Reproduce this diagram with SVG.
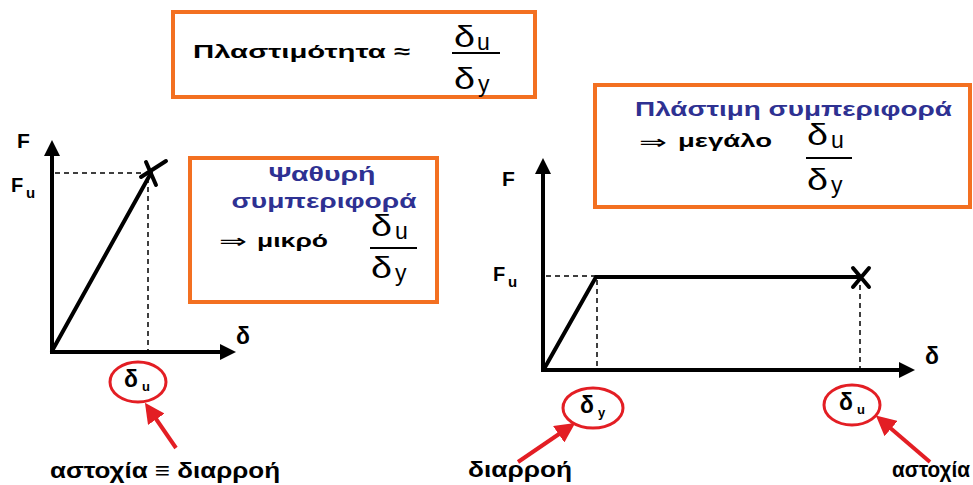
<svg xmlns="http://www.w3.org/2000/svg" width="973" height="485" viewBox="0 0 973 485">
<style>
.box{fill:#fff;stroke:#F37021;stroke-width:4}
.t{font-family:"Liberation Sans",Arial,sans-serif;font-weight:bold;fill:#000}
.b{fill:#2E3192}
.d{font-family:"Liberation Sans",Arial,sans-serif;font-weight:normal;fill:#000}
.ar{font-family:"DejaVu Sans",sans-serif;font-weight:normal;fill:#000}
.ax{stroke:#000;stroke-width:4;fill:none}
.pl{stroke:#000;stroke-width:4;fill:none;stroke-linecap:round}
.da{stroke:#000;stroke-width:1.5;stroke-dasharray:5 4;fill:none}
.fr{stroke:#000;stroke-width:2}
.rc{fill:none;stroke:#E31E24;stroke-width:3}
.ra{stroke:#E31E24;stroke-width:4;fill:none}
</style>
<defs>
<marker id="ah" markerWidth="4" markerHeight="4" refX="1" refY="2" orient="auto" markerUnits="strokeWidth"><path d="M0,0 L4,2 L0,4 z" fill="#000"/></marker>
<marker id="rh" markerWidth="5" markerHeight="5" refX="1" refY="2.5" orient="auto" markerUnits="strokeWidth"><path d="M0,0 L5,2.5 L0,5 z" fill="#E31E24"/></marker>
</defs>
<rect width="973" height="485" fill="#fff"/>

<g id="top-box">
<rect class="box" x="173" y="12" width="362" height="85"/>
<text class="t" x="193" y="58" font-size="19" textLength="217" lengthAdjust="spacingAndGlyphs">Πλαστιμότητα ≈</text>
<text class="d" x="454" y="47" font-size="29" textLength="21" lengthAdjust="spacingAndGlyphs">δ</text>
<text class="d" x="477" y="50" font-size="23">u</text>
<line class="fr" x1="452" y1="53" x2="500" y2="53"/>
<text class="d" x="454" y="89" font-size="29" textLength="21" lengthAdjust="spacingAndGlyphs">δ</text>
<text class="d" x="478" y="92" font-size="23">y</text>
</g>

<g id="brittle-box">
<rect class="box" x="190" y="158" width="247" height="144"/>
<text class="t b" x="322" y="181" font-size="20" text-anchor="middle" textLength="107" lengthAdjust="spacingAndGlyphs">Ψαθυρή</text>
<text class="t b" x="324" y="208" font-size="20" text-anchor="middle" textLength="185" lengthAdjust="spacingAndGlyphs">συμπεριφορά</text>
<text class="ar" x="219" y="248" font-size="20" textLength="28" lengthAdjust="spacingAndGlyphs">⇒</text>
<text class="t" x="257" y="247" font-size="19" textLength="71" lengthAdjust="spacingAndGlyphs">μικρό</text>
<text class="d" x="371" y="236" font-size="29" textLength="21" lengthAdjust="spacingAndGlyphs">δ</text>
<text class="d" x="395" y="239" font-size="23">u</text>
<line class="fr" x1="370" y1="248" x2="417" y2="248"/>
<text class="d" x="371" y="278" font-size="29" textLength="21" lengthAdjust="spacingAndGlyphs">δ</text>
<text class="d" x="395" y="281" font-size="23">y</text>
</g>

<g id="ductile-box">
<rect class="box" x="595" y="85" width="375" height="122"/>
<text class="t b" x="635" y="116" font-size="20" textLength="317" lengthAdjust="spacingAndGlyphs">Πλάστιμη συμπεριφορά</text>
<text class="ar" x="639" y="149" font-size="20" textLength="28" lengthAdjust="spacingAndGlyphs">⇒</text>
<text class="t" x="678" y="147" font-size="19" textLength="94" lengthAdjust="spacingAndGlyphs">μεγάλο</text>
<text class="d" x="807" y="145" font-size="29" textLength="21" lengthAdjust="spacingAndGlyphs">δ</text>
<text class="d" x="831" y="148" font-size="23">u</text>
<line class="fr" x1="806" y1="158" x2="852" y2="158"/>
<text class="d" x="807" y="190" font-size="29" textLength="21" lengthAdjust="spacingAndGlyphs">δ</text>
<text class="d" x="831" y="193" font-size="23">y</text>
</g>

<g id="brittle-chart">
<line class="ax" x1="52" y1="354" x2="52" y2="152" marker-end="url(#ah)"/>
<line class="ax" x1="50" y1="352" x2="224" y2="352" marker-end="url(#ah)"/>
<line class="da" x1="55" y1="173" x2="150" y2="173"/>
<line class="da" x1="148" y1="178" x2="148" y2="350"/>
<line class="pl" x1="52" y1="351" x2="151" y2="173"/>
<path class="pl" d="M146,162 L156,185 M141,177 L166,161" stroke-width="3.5"/>
<text class="t" x="17" y="148" font-size="21">F</text>
<text class="t" x="11" y="192" font-size="20">F</text>
<text class="t" x="26" y="198" font-size="15">u</text>
<text class="t" x="236" y="344" font-size="23">δ</text>
</g>

<g id="ductile-chart">
<line class="ax" x1="543" y1="372" x2="543" y2="170" marker-end="url(#ah)"/>
<line class="ax" x1="541" y1="370" x2="903" y2="370" marker-end="url(#ah)"/>
<line class="da" x1="546" y1="276" x2="600" y2="276"/>
<line class="da" x1="597" y1="280" x2="597" y2="368"/>
<line class="da" x1="860" y1="285" x2="860" y2="368"/>
<polyline class="pl" points="544,369 596,277 858,277"/>
<path class="pl" d="M853,268 L869,287 M869,268 L853,287" stroke-width="4"/>
<text class="t" x="502" y="186" font-size="21">F</text>
<text class="t" x="493" y="281" font-size="20">F</text>
<text class="t" x="508" y="287" font-size="15">u</text>
<text class="t" x="925" y="364" font-size="23">δ</text>
</g>

<g id="marker-du-left">
<ellipse class="rc" cx="138" cy="382" rx="28" ry="20"/>
<text class="t" x="124" y="387" font-size="23">δ</text>
<text class="t" x="142" y="391" font-size="13">u</text>
</g>
<g id="marker-dy">
<ellipse class="rc" cx="593" cy="408" rx="30" ry="20"/>
<text class="t" x="580" y="413" font-size="23">δ</text>
<text class="t" x="598" y="417" font-size="13">y</text>
</g>
<g id="marker-du-right">
<ellipse class="rc" cx="852" cy="405" rx="28" ry="20"/>
<text class="t" x="839" y="410" font-size="23">δ</text>
<text class="t" x="857" y="414" font-size="13">u</text>
</g>

<g id="connectors">
<line class="ra" x1="176" y1="448" x2="154" y2="416" marker-end="url(#rh)"/>
<line class="ra" x1="518" y1="462" x2="562" y2="432" marker-end="url(#rh)"/>
<line class="ra" x1="930" y1="462" x2="888" y2="426" marker-end="url(#rh)"/>
</g>

<g id="labels">
<text class="t" x="50" y="478" font-size="22" textLength="230" lengthAdjust="spacingAndGlyphs">αστοχία ≡ διαρροή</text>
<text class="t" x="468" y="477" font-size="22" textLength="104" lengthAdjust="spacingAndGlyphs">διαρροή</text>
<text class="t" x="892" y="477" font-size="22" textLength="78" lengthAdjust="spacingAndGlyphs">αστοχία</text>
</g>
</svg>
